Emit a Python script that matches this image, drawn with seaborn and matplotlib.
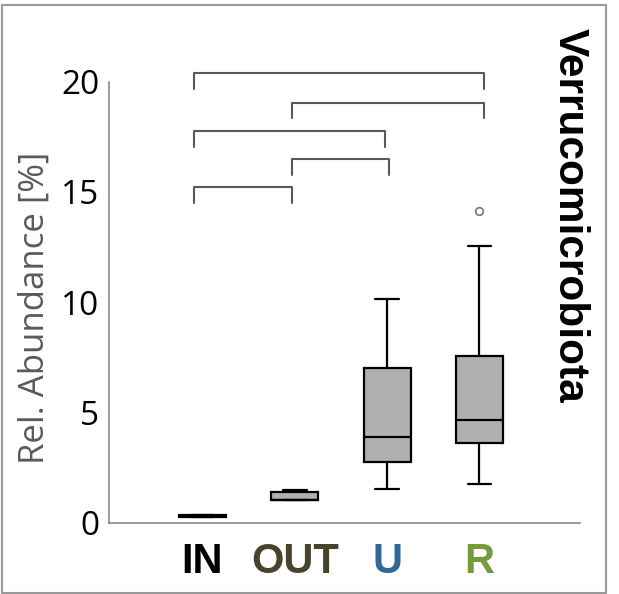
import numpy as np
import pandas as pd
import matplotlib
matplotlib.use("Agg")
import matplotlib.pyplot as plt
from matplotlib.patches import Rectangle
import seaborn as sns

# ---------------- data ----------------
categories = ["IN", "OUT", "U", "R"]
label_colors = ["#000000", "#4a432b", "#336699", "#779a3a"]
in_values = [0.27, 0.28, 0.30, 0.33, 0.34]
out_values = [1.03, 1.03, 1.05, 1.38, 1.48]
u_values = [1.53, 2.77, 3.90, 7.00, 10.15]
r_values = [1.74, 2.50, 3.63, 4.20, 4.66, 6.00, 7.56, 12.56, 14.14]
yticks = [0, 5, 10, 15, 20]
title = "Verrucomicrobiota"
ylabel = "Rel. Abundance [%]"
# significance brackets: (left group, right group)
bracket_pairs = [("IN", "R"), ("OUT", "R"), ("IN", "U"), ("OUT", "U"), ("IN", "OUT")]

# ---------------- figure ----------------
sns.set_style("white")
plt.rcParams["font.family"] = ["Open Sans", "DejaVu Sans"]

fig = plt.figure(figsize=(6.19, 5.94), dpi=100)
ax = fig.add_axes([109 / 619, 1 - 522.7 / 594, (580 - 109) / 619, (522.7 - 81.7) / 594])

df = pd.DataFrame({
    "group": (["IN"] * len(in_values) + ["OUT"] * len(out_values)
              + ["U"] * len(u_values) + ["R"] * len(r_values)),
    "value": in_values + out_values + u_values + r_values,
})

sns.boxplot(data=df, x="group", y="value", order=categories, color="#b0b0b0",
            saturation=1, linecolor="black", linewidth=1.6, width=0.51,
            fliersize=5.5,
            flierprops=dict(marker="o", markerfacecolor="none",
                            markeredgecolor="#777777", markeredgewidth=1.2),
            ax=ax)

ax.set_xlim(-1.013, 4.09)
ax.set_ylim(0, 20)
ax.set_yticks(yticks)
ax.set_yticklabels([str(t) for t in yticks], fontsize=24, color="black")
ax.tick_params(axis="y", length=4, width=1, color="#808080", pad=3)
ax.tick_params(axis="x", length=0, pad=14)
ax.set_xlabel("")
for lab, col in zip(ax.get_xticklabels(), label_colors):
    lab.set_color(col)
    lab.set_fontsize(30)
    lab.set_fontweight("bold")
    lab.set_family(["Liberation Sans", "DejaVu Sans"])

ax.set_ylabel(ylabel, fontsize=25, color="#5a5a5a")
ax.yaxis.set_label_coords(-0.121, 0.487)

for s in ["top", "right"]:
    ax.spines[s].set_visible(False)
for s in ["left", "bottom"]:
    ax.spines[s].set_color("#808080")
    ax.spines[s].set_linewidth(1.1)

# brackets (positions in axis coordinates, drawn beyond the axes top)
leg_offsets = {"IN": -0.09, "OUT": -0.035, "U": -0.01, "R": 0.05}
right_offsets = {"OUT": -0.035, "U": 0.02, "R": 0.05}
bracket_tops = [20.39, 19.05, 17.75, 16.49, 15.22]
bracket_drop = 0.70
for (a, b), top in zip(bracket_pairs, bracket_tops):
    xa = categories.index(a) + leg_offsets[a]
    xb = categories.index(b) + right_offsets[b]
    if (a, b) == ("IN", "U"):
        xb = categories.index(b) - 0.02
    ax.plot([xa, xa, xb, xb], [top - bracket_drop, top, top, top - bracket_drop],
            color="#595959", lw=1.5, clip_on=False, solid_joinstyle="round")

# title on the right, reading top to bottom
fig.text(570 / 619, 1 - 28 / 594, title, rotation=-90, ha="center", va="top",
         fontsize=30.5, fontweight="bold", family=["Liberation Sans", "DejaVu Sans"],
         color="black")

# figure border
fig.patches.append(Rectangle((2 / 619, 1 - 592.5 / 594), (606 - 2) / 619, (592.5 - 5) / 594,
                             transform=fig.transFigure, fill=False,
                             edgecolor="#9a9a9a", lw=1.5))

fig.savefig("out.png", dpi=100)
